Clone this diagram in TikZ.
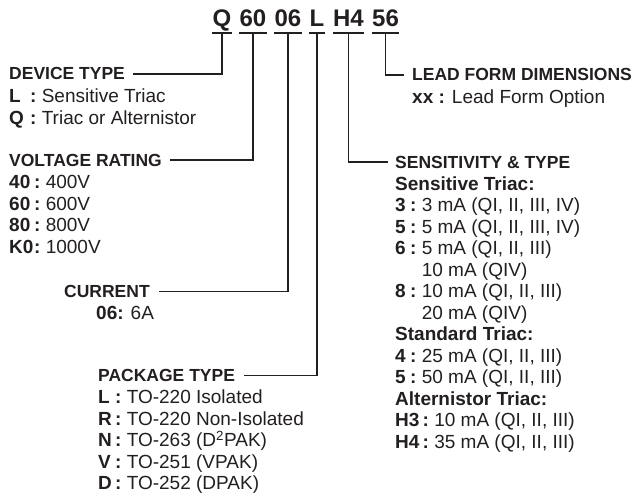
\documentclass[tikz,border=0pt]{standalone}
\usepackage{fontspec}
\setmainfont{Liberation Sans}
\definecolor{ink}{RGB}{35,31,32}
\newcommand{\lbx}[2]{\makebox[#1][l]{\textbf{#2}}\textbf{:}\ }
\begin{document}
\begin{tikzpicture}[x=1pt,y=-1pt,
  txt/.style={anchor=base west, inner sep=0pt, font=\fontsize{19}{21.5}\selectfont, text=ink},
  sub/.style={txt, font=\fontsize{19}{21.5}\selectfont\bfseries},
  hdr/.style={txt, font=\fontsize{17.5}{21.5}\selectfont\bfseries},
  code/.style={anchor=base, inner sep=0pt, font=\fontsize{24}{28}\selectfont\bfseries, text=ink},
  uline/.style={draw=ink, line width=1.6pt},
  conn/.style={draw=ink, line width=1.2pt}]
\useasboundingbox (0,0) rectangle (640,495);

% part number
\node[code] (cQ)  at (222,27)   {Q};
\node[code] (c60) at (253,27)   {60};
\node[code] (c06) at (288,27)   {06};
\node[code] (cL)  at (317,27)   {L};
\node[code] (cH)  at (348.5,27) {H4};
\node[code] (c56) at (385.5,27) {56};
\foreach \n in {cQ,c60,c06,cL,cH,c56}{
  \draw[uline] ([yshift=-6pt]\n.base west) -- ([yshift=-6pt]\n.base east);
  \coordinate (\n-u) at ([yshift=-6pt]\n.base);
}

% device type
\node[hdr] (devhdr) at (9,80) {DEVICE TYPE};
\node[txt] (dev1) at (9,102.5) {\lbx{21pt}{L}Sensitive Triac};
\node[txt] (dev2) at (9,124) {\lbx{21pt}{Q}Triac or Alternistor};

% voltage rating
\node[hdr] (volthdr) at (9,166) {VOLTAGE RATING};
\node[txt] (v1) at (9,188.5) {\lbx{25pt}{40}400V};
\node[txt] (v2) at (9,210)   {\lbx{25pt}{60}600V};
\node[txt] (v3) at (9,231.5) {\lbx{25pt}{80}800V};
\node[txt] (v4) at (9,253)   {\lbx{25pt}{K0}1000V};

% current
\node[hdr] (curhdr) at (64,297.5) {CURRENT};
\node[txt] (cur1) at (96,319.5) {\textbf{06:} 6A};

% package type
\node[hdr] (pkghdr) at (98,381.5) {PACKAGE TYPE};
\node[txt] (p1) at (98,403.5) {\lbx{17pt}{L}TO-220 Isolated};
\node[txt] (p2) at (98,425)   {\lbx{17pt}{R}TO-220 Non-Isolated};
\node[txt] (p3) at (98,446.5) {\lbx{17pt}{N}TO-263 (D\textsuperscript{2}PAK)};
\node[txt] (p4) at (98,468)   {\lbx{17pt}{V}TO-251 (VPAK)};
\node[txt] (p5) at (98,489.5) {\lbx{17pt}{D}TO-252 (DPAK)};

% lead form
\node[hdr] (leadhdr) at (412,81) {LEAD FORM DIMENSIONS};
\node[txt] (lead1) at (412,103) {\textbf{xx :} Lead Form Option};

% sensitivity
\node[hdr] (sensehdr) at (395,168) {SENSITIVITY \& TYPE};
\node[sub] (s0) at (395,190)   {Sensitive Triac:};
\node[txt] (s1) at (395,211.5) {\lbx{15pt}{3}3 mA (QI, II, III, IV)};
\node[txt] (s2) at (395,233)   {\lbx{15pt}{5}5 mA (QI, II, III, IV)};
\node[txt] (s3) at (395,254.5) {\lbx{15pt}{6}5 mA (QI, II, III)};
\node[txt] (s4) at (395,276)   {\hphantom{\lbx{15pt}{6}}10 mA (QIV)};
\node[txt] (s5) at (395,297.5) {\lbx{15pt}{8}10 mA (QI, II, III)};
\node[txt] (s6) at (395,319)   {\hphantom{\lbx{15pt}{8}}20 mA (QIV)};
\node[sub] (s7) at (395,340.5) {Standard Triac:};
\node[txt] (s8) at (395,362)   {\lbx{15pt}{4}25 mA (QI, II, III)};
\node[txt] (s9) at (395,383.5) {\lbx{15pt}{5}50 mA (QI, II, III)};
\node[sub] (s10) at (395,405)  {Alternistor Triac:};
\node[txt] (s11) at (395,426.5) {\lbx{27.5pt}{H3}10 mA (QI, II, III)};
\node[txt] (s12) at (395,448)   {\lbx{27.5pt}{H4}35 mA (QI, II, III)};

% connectors
\draw[conn] (cQ-u)  |- ([xshift=8pt]devhdr.east);
\draw[conn] (c60-u) |- ([xshift=8pt]volthdr.east);
\draw[conn] (c06-u) |- ([xshift=9pt]curhdr.east);
\draw[conn] (cL-u)  |- ([xshift=9pt]pkghdr.east);
\draw[conn] (cH-u)  |- ([xshift=-7pt]sensehdr.west);
\draw[conn] (c56-u) |- ([xshift=-8pt]leadhdr.west);
\end{tikzpicture}
\end{document}
